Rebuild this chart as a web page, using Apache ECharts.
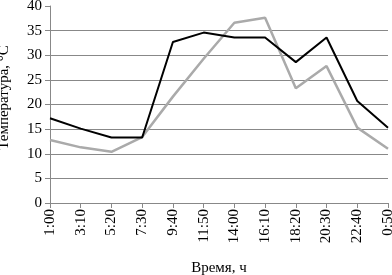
<!DOCTYPE html>
<html><head><meta charset="utf-8">
<script src="https://cdn.jsdelivr.net/npm/echarts@6/dist/echarts.min.js"></script>
<style>html,body{margin:0;padding:0;background:#fff}#c{width:392px;height:275px}</style>
</head><body><div id="c"></div>
<script>
const categories = ["1:00","3:10","5:20","7:30","9:40","11:50","14:00","16:10","18:20","20:30","22:40","0:50"];
const seriesBlack = [17.2,15.1,13.3,13.3,32.7,34.6,33.6,33.6,28.6,33.6,20.7,15.3];
const seriesGray = [12.8,11.3,10.4,13.4,21.6,29.3,36.6,37.6,23.3,27.8,15.3,11.0];
const yTicks = [0,5,10,15,20,25,30,35,40];
const font = "Liberation Serif";
const chart = echarts.init(document.getElementById('c'));
chart.setOption({
  animation:false,
  grid:{left:50,right:4,top:6,bottom:72,containLabel:false,outerBoundsMode:'none'},
  xAxis:{type:'category',data:categories,boundaryGap:false,
    name:'Время, ч',nameLocation:'middle',nameGap:58,
    nameTextStyle:{fontFamily:font,fontSize:15,color:'#000'},
    axisLine:{lineStyle:{color:'#888',width:1}},
    axisTick:{show:true,alignWithLabel:true,length:5,lineStyle:{color:'#888'}},
    axisLabel:{rotate:90,fontFamily:font,fontSize:15,color:'#000',margin:6,interval:0}},
  yAxis:{type:'value',min:yTicks[0],max:yTicks[yTicks.length-1],interval:5,
    name:'Температура, °C',nameLocation:'middle',nameGap:38,
    nameTextStyle:{fontFamily:font,fontSize:15,color:'#000',padding:[0,0,0,14]},
    axisLine:{show:true,lineStyle:{color:'#888',width:1}},
    axisTick:{show:true,length:5,lineStyle:{color:'#888'}},
    axisLabel:{fontFamily:font,fontSize:15,color:'#000',margin:8},
    splitLine:{show:true,showMaxLine:false,lineStyle:{color:'#888',width:1}}},
  series:[
    {type:'line',data:seriesGray,symbol:'none',lineStyle:{color:'#aaaaaa',width:2.5}},
    {type:'line',data:seriesBlack,symbol:'none',lineStyle:{color:'#000',width:2}}
  ]
});
</script></body></html>
